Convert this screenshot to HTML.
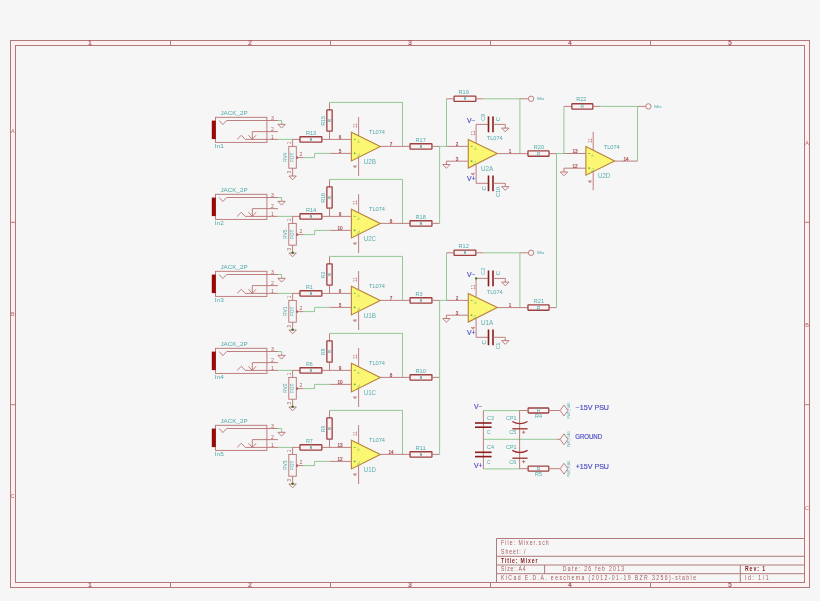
<!DOCTYPE html><html><head><meta charset="utf-8"><style>
html,body{margin:0;padding:0;background:#f6f6f6;width:820px;height:601px;overflow:hidden}
svg{display:block;will-change:transform}
text{font-family:"Liberation Sans",sans-serif;white-space:pre}
.b{stroke:#b07a7a;stroke-width:1;fill:none}
.c{stroke:#b87272;stroke-width:0.9;fill:none}
.w{stroke:#88c488;stroke-width:0.9;fill:none}
.r{stroke:#9c4040;stroke-width:1.3;fill:#fbf3f3}
.tl{fill:#4ea8a8;font-size:6px}
.tu{fill:#5aafaf;font-size:7.4px}
.tres{fill:#4ea8a8;font-size:5.3px}
.tr{fill:#3e9c9c;font-size:3.4px;stroke:#3e9c9c;stroke-width:0.15}
.pn{fill:#b05a5a;font-size:5.1px}
.bl{fill:#4a4ac4;font-size:6.5px;stroke:#4a4ac4;stroke-width:0.15}
.tb{fill:#a85858;font-size:6.4px}
.tbb{fill:#8a1a1a;font-size:6.4px;font-weight:bold}
.gp{fill:#4aa04a;font-size:5px;stroke:#4aa04a;stroke-width:0.2}
.cp{stroke:#8c1c1c;stroke-width:1.6;fill:none}
.cp2{stroke:#9a3030;stroke-width:1.3;fill:none}
.tm{fill:#4aa8a8;font-size:4.4px}
.tf{fill:#4fa9a9;font-size:3px}
.pp{fill:#a85050;font-size:4.6px;stroke:#a85050;stroke-width:0.2}
.gm{stroke:#58b058;stroke-width:0.8}
.gv{fill:#60b860;font-size:3.2px}
.tpot{fill:#4aa8a8;font-size:4.6px}
.trb{fill:#4ea8a8;font-size:5px}
.bl2{fill:#b06464;font-size:5.4px}
.pr{fill:#b05c5c;font-size:4.6px;stroke:#b05c5c;stroke-width:0.05}
.bn{fill:#a85858;font-size:6.3px;stroke:#a85858;stroke-width:0.25}
</style></head><body>
<svg width="820" height="601" viewBox="0 0 820 601">
<rect x="0" y="0" width="820" height="601" fill="#f6f6f6"/>
<path d="M10,40H809V587H10Z M15,45H804V582H15Z" fill="#fff1f1" fill-rule="evenodd"/>
<rect class="b" x="10.5" y="40.5" width="799" height="547"/>
<rect class="b" x="15.5" y="45.5" width="789" height="537"/>
<line class="b" x1="170.5" y1="40" x2="170.5" y2="45"/>
<line class="b" x1="170.5" y1="582" x2="170.5" y2="587"/>
<line class="b" x1="330.5" y1="40" x2="330.5" y2="45"/>
<line class="b" x1="330.5" y1="582" x2="330.5" y2="587"/>
<line class="b" x1="490.5" y1="40" x2="490.5" y2="45"/>
<line class="b" x1="490.5" y1="582" x2="490.5" y2="587"/>
<line class="b" x1="650.5" y1="40" x2="650.5" y2="45"/>
<line class="b" x1="650.5" y1="582" x2="650.5" y2="587"/>
<text class="bn" x="90" y="45.2" text-anchor="middle">1</text>
<text class="bn" x="90" y="587.2" text-anchor="middle">1</text>
<text class="bn" x="250" y="45.2" text-anchor="middle">2</text>
<text class="bn" x="250" y="587.2" text-anchor="middle">2</text>
<text class="bn" x="410" y="45.2" text-anchor="middle">3</text>
<text class="bn" x="410" y="587.2" text-anchor="middle">3</text>
<text class="bn" x="570" y="45.2" text-anchor="middle">4</text>
<text class="bn" x="570" y="587.2" text-anchor="middle">4</text>
<text class="bn" x="730" y="45.2" text-anchor="middle">5</text>
<text class="bn" x="730" y="587.2" text-anchor="middle">5</text>
<line class="b" x1="10" y1="222.3" x2="15" y2="222.3"/>
<line class="b" x1="804" y1="222.3" x2="809" y2="222.3"/>
<line class="b" x1="10" y1="404.7" x2="15" y2="404.7"/>
<line class="b" x1="804" y1="404.7" x2="809" y2="404.7"/>
<text class="bl2" x="12.8" y="133" text-anchor="middle">A</text>
<text class="bl2" x="12.8" y="315.5" text-anchor="middle">B</text>
<text class="bl2" x="12.8" y="498" text-anchor="middle">C</text>
<text class="bl2" x="807" y="144.7" text-anchor="middle">A</text>
<text class="bl2" x="807" y="327" text-anchor="middle">B</text>
<text class="bl2" x="807" y="510" text-anchor="middle">C</text>
<path class="b" d="M496.5,582V538.5H804 M496.5,556.3H804 M496.5,565H804 M496.5,573.7H804 M544.6,565V573.7 M740.3,565V582"/>
<text class="tb" x="626.25" y="544.8" transform="scale(0.8 1)" textLength="59.62" lengthAdjust="spacing">File: Mixer.sch</text>
<text class="tb" x="626.25" y="553.6" transform="scale(0.8 1)" textLength="30.62" lengthAdjust="spacing">Sheet: /</text>
<text class="tbb" x="626.25" y="562.6" transform="scale(0.8 1)" textLength="45.5" lengthAdjust="spacing">Title: Mixer</text>
<text class="tb" x="626.25" y="571.5" transform="scale(0.8 1)" textLength="30.62" lengthAdjust="spacing">Size: A4</text>
<text class="tb" x="703.5" y="571.5" transform="scale(0.8 1)" textLength="76.75" lengthAdjust="spacing">Date: 26 feb 2013</text>
<text class="tb" x="626.25" y="580.2" transform="scale(0.8 1)" textLength="243.75" lengthAdjust="spacing">KiCad E.D.A. eeschema (2012-01-19 BZR 3256)-stable</text>
<text class="tbb" x="931.25" y="571.5" transform="scale(0.8 1)" textLength="25" lengthAdjust="spacing">Rev: 1</text>
<text class="tb" x="931.25" y="580.2" transform="scale(0.8 1)" textLength="29.38" lengthAdjust="spacing">Id: 1/1</text>
<g transform="translate(0 0)">
<rect class="c" x="215.5" y="117.3" width="51.4" height="25.1"/>
<rect x="211.8" y="120.6" width="4" height="18.5" fill="#980808"/>
<polyline class="c" points="219.3,120.6 222.8,124.6 226.7,120.5 278,120.5"/>
<polyline class="w" points="278,120.5 281.6,120.5 281.6,124.3"/>
<polygon class="c" points="277.9,124.3 285.3,124.3 281.6,128.1"/>
<polyline class="c" points="278,131.6 252.3,131.6 252.3,139.4"/>
<polyline class="c" points="248.4,135.2 252.3,139.4 256.1,135.2"/>
<polyline class="c" points="237.1,139.4 241.3,135.3 245.2,139.4 278,139.4"/>
<text class="tl" x="220.4" y="115" textLength="27.2" lengthAdjust="spacingAndGlyphs">JACK_2P</text>
<text class="tl" x="214.8" y="148.4" textLength="9" lengthAdjust="spacingAndGlyphs">In1</text>
<text class="pn" x="272.5" y="119.5" text-anchor="middle">3</text>
<text class="pn" x="272.5" y="130.8" text-anchor="middle">2</text>
<text class="pn" x="272.5" y="138.5" text-anchor="middle">1</text>
<line class="w" x1="278" y1="139.4" x2="292.6" y2="139.4"/>
<line class="c" x1="292.6" y1="139.4" x2="300" y2="139.4"/>
<line class="c" x1="292.6" y1="139.4" x2="292.6" y2="146.4"/>
<rect class="c" x="288.8" y="146.4" width="7.5" height="21.8"/>
<line class="c" x1="292.6" y1="168.2" x2="292.6" y2="176"/>
<polygon class="c" points="288.9,176 296.3,176 292.6,179.8"/>
<circle cx="297.2" cy="157.6" r="1.1" fill="#9a2020"/>
<line class="c" x1="296.3" y1="157.6" x2="303.6" y2="157.6"/>
<polyline class="w" points="303.6,157.6 314.6,157.6 314.6,153.4 329.5,153.4"/>
<text class="pn" x="300.8" y="156.4" text-anchor="middle">2</text>
<text class="pr" x="290.6" y="143" text-anchor="middle" transform="rotate(-90 290.6 143)">1</text>
<text class="pr" x="290.6" y="172.2" text-anchor="middle" transform="rotate(-90 290.6 172.2)">3</text>
<text class="tpot" x="294.2" y="157.5" textLength="9.6" lengthAdjust="spacingAndGlyphs" text-anchor="middle" transform="rotate(-90 294.2 157.5)">POT</text>
<text class="tl" x="287" y="157.3" textLength="9.5" lengthAdjust="spacingAndGlyphs" text-anchor="middle" transform="rotate(-90 287 157.3)">RV4</text>
<rect class="r" x="299.95" y="136.75" width="21.9" height="5.3" rx="0.4"/>
<text class="tr" x="310.9" y="140.7" text-anchor="middle">R</text>
<text class="tres" x="306" y="134.9" textLength="10.2" lengthAdjust="spacingAndGlyphs">R13</text>
<line class="c" x1="322" y1="139.4" x2="351.4" y2="139.4"/>
<line class="c" x1="329.5" y1="102.5" x2="329.5" y2="110.1"/>
<rect class="r" x="326.85" y="109.95" width="5.3" height="21.2" rx="0.4"/>
<text class="tr" x="330.8" y="120.55" text-anchor="middle" transform="rotate(-90 330.8 120.55)">R</text>
<text class="tres" x="325" y="120.9" textLength="9.9" lengthAdjust="spacingAndGlyphs" text-anchor="middle" transform="rotate(-90 325 120.9)">R15</text>
<line class="c" x1="329.5" y1="131.8" x2="329.5" y2="139.4"/>
<polyline class="w" points="329.5,102.4 402.5,102.4 402.5,146.4"/>
<line class="c" x1="358.6" y1="117.1" x2="358.6" y2="136"/>
<line class="c" x1="358.6" y1="157" x2="358.6" y2="176"/>
<line class="c" x1="329.5" y1="153.4" x2="351.4" y2="153.4"/>
<polygon points="351.4,132.2 380.3,146.5 351.4,160.9" fill="#fcf772" stroke="#b8803a" stroke-width="1.1"/>
<line class="c" x1="380.3" y1="146.4" x2="410" y2="146.4"/>
<line class="gm" x1="353.7" y1="139.4" x2="355.7" y2="139.4"/>
<line class="gm" x1="353.7" y1="153.4" x2="355.7" y2="153.4"/>
<line class="gm" x1="354.7" y1="152.4" x2="354.7" y2="154.4"/>
<text class="gv" x="359.6" y="141" text-anchor="middle" transform="rotate(-90 359.6 141)">V−</text>
<text class="gv" x="359.6" y="155" text-anchor="middle" transform="rotate(-90 359.6 155)">V+</text>
<text class="tl" x="369" y="133.5" textLength="16" lengthAdjust="spacingAndGlyphs">TL074</text>
<text class="tu" x="363.7" y="163.7" textLength="12.3" lengthAdjust="spacingAndGlyphs">U2B</text>
<text class="pp" x="340" y="138.8" text-anchor="middle">6</text>
<text class="pp" x="340" y="152.8" text-anchor="middle">5</text>
<text class="pp" x="391" y="145.8" text-anchor="middle">7</text>
<text class="pr" x="357.3" y="125.5" text-anchor="middle" transform="rotate(-90 357.3 125.5)">11</text>
<text class="pr" x="357.3" y="166.5" text-anchor="middle" transform="rotate(-90 357.3 166.5)">4</text>
<rect class="r" x="410.05" y="143.75" width="21.9" height="5.3" rx="0.4"/>
<text class="tr" x="421" y="147.7" text-anchor="middle">R</text>
<text class="tres" x="415.6" y="142" textLength="10.2" lengthAdjust="spacingAndGlyphs">R17</text>
<line class="c" x1="432.6" y1="146.4" x2="439.6" y2="146.4"/>
</g>
<g transform="translate(0 77)">
<rect class="c" x="215.5" y="117.3" width="51.4" height="25.1"/>
<rect x="211.8" y="120.6" width="4" height="18.5" fill="#980808"/>
<polyline class="c" points="219.3,120.6 222.8,124.6 226.7,120.5 278,120.5"/>
<polyline class="w" points="278,120.5 281.6,120.5 281.6,124.3"/>
<polygon class="c" points="277.9,124.3 285.3,124.3 281.6,128.1"/>
<polyline class="c" points="278,131.6 252.3,131.6 252.3,139.4"/>
<polyline class="c" points="248.4,135.2 252.3,139.4 256.1,135.2"/>
<polyline class="c" points="237.1,139.4 241.3,135.3 245.2,139.4 278,139.4"/>
<text class="tl" x="220.4" y="115" textLength="27.2" lengthAdjust="spacingAndGlyphs">JACK_2P</text>
<text class="tl" x="214.8" y="148.4" textLength="9" lengthAdjust="spacingAndGlyphs">In2</text>
<text class="pn" x="272.5" y="119.5" text-anchor="middle">3</text>
<text class="pn" x="272.5" y="130.8" text-anchor="middle">2</text>
<text class="pn" x="272.5" y="138.5" text-anchor="middle">1</text>
<line class="w" x1="278" y1="139.4" x2="292.6" y2="139.4"/>
<line class="c" x1="292.6" y1="139.4" x2="300" y2="139.4"/>
<line class="c" x1="292.6" y1="139.4" x2="292.6" y2="146.4"/>
<rect class="c" x="288.8" y="146.4" width="7.5" height="21.8"/>
<line class="c" x1="292.6" y1="168.2" x2="292.6" y2="176"/>
<polygon class="c" points="288.9,176 296.3,176 292.6,179.8"/>
<circle cx="292.6" cy="175.8" r="1.25" fill="#3d7a30"/>
<circle cx="297.2" cy="157.6" r="1.1" fill="#9a2020"/>
<line class="c" x1="296.3" y1="157.6" x2="303.6" y2="157.6"/>
<polyline class="w" points="303.6,157.6 314.6,157.6 314.6,153.4 329.5,153.4"/>
<text class="pn" x="300.8" y="156.4" text-anchor="middle">2</text>
<text class="pr" x="290.6" y="143" text-anchor="middle" transform="rotate(-90 290.6 143)">1</text>
<text class="pr" x="290.6" y="172.2" text-anchor="middle" transform="rotate(-90 290.6 172.2)">3</text>
<text class="tpot" x="294.2" y="157.5" textLength="9.6" lengthAdjust="spacingAndGlyphs" text-anchor="middle" transform="rotate(-90 294.2 157.5)">POT</text>
<text class="tl" x="287" y="157.3" textLength="9.5" lengthAdjust="spacingAndGlyphs" text-anchor="middle" transform="rotate(-90 287 157.3)">RV5</text>
<rect class="r" x="299.95" y="136.75" width="21.9" height="5.3" rx="0.4"/>
<text class="tr" x="310.9" y="140.7" text-anchor="middle">R</text>
<text class="tres" x="306" y="134.9" textLength="10.2" lengthAdjust="spacingAndGlyphs">R14</text>
<line class="c" x1="322" y1="139.4" x2="351.4" y2="139.4"/>
<line class="c" x1="329.5" y1="102.5" x2="329.5" y2="110.1"/>
<rect class="r" x="326.85" y="109.95" width="5.3" height="21.2" rx="0.4"/>
<text class="tr" x="330.8" y="120.55" text-anchor="middle" transform="rotate(-90 330.8 120.55)">R</text>
<text class="tres" x="325" y="120.9" textLength="9.9" lengthAdjust="spacingAndGlyphs" text-anchor="middle" transform="rotate(-90 325 120.9)">R16</text>
<line class="c" x1="329.5" y1="131.8" x2="329.5" y2="139.4"/>
<polyline class="w" points="329.5,102.4 402.5,102.4 402.5,146.4"/>
<line class="c" x1="358.6" y1="117.1" x2="358.6" y2="136"/>
<line class="c" x1="358.6" y1="157" x2="358.6" y2="176"/>
<line class="c" x1="329.5" y1="153.4" x2="351.4" y2="153.4"/>
<polygon points="351.4,132.2 380.3,146.5 351.4,160.9" fill="#fcf772" stroke="#b8803a" stroke-width="1.1"/>
<line class="c" x1="380.3" y1="146.4" x2="410" y2="146.4"/>
<line class="gm" x1="353.7" y1="139.4" x2="355.7" y2="139.4"/>
<line class="gm" x1="353.7" y1="153.4" x2="355.7" y2="153.4"/>
<line class="gm" x1="354.7" y1="152.4" x2="354.7" y2="154.4"/>
<text class="gv" x="359.6" y="141" text-anchor="middle" transform="rotate(-90 359.6 141)">V−</text>
<text class="gv" x="359.6" y="155" text-anchor="middle" transform="rotate(-90 359.6 155)">V+</text>
<text class="tl" x="369" y="133.5" textLength="16" lengthAdjust="spacingAndGlyphs">TL074</text>
<text class="tu" x="363.7" y="163.7" textLength="12.3" lengthAdjust="spacingAndGlyphs">U2C</text>
<text class="pp" x="340" y="138.8" text-anchor="middle">9</text>
<text class="pp" x="340" y="152.8" text-anchor="middle">10</text>
<text class="pp" x="391" y="145.8" text-anchor="middle">8</text>
<text class="pr" x="357.3" y="125.5" text-anchor="middle" transform="rotate(-90 357.3 125.5)">11</text>
<text class="pr" x="357.3" y="166.5" text-anchor="middle" transform="rotate(-90 357.3 166.5)">4</text>
<rect class="r" x="410.05" y="143.75" width="21.9" height="5.3" rx="0.4"/>
<text class="tr" x="421" y="147.7" text-anchor="middle">R</text>
<text class="tres" x="415.6" y="142" textLength="10.2" lengthAdjust="spacingAndGlyphs">R18</text>
<line class="c" x1="432.6" y1="146.4" x2="439.6" y2="146.4"/>
</g>
<g transform="translate(0 154)">
<rect class="c" x="215.5" y="117.3" width="51.4" height="25.1"/>
<rect x="211.8" y="120.6" width="4" height="18.5" fill="#980808"/>
<polyline class="c" points="219.3,120.6 222.8,124.6 226.7,120.5 278,120.5"/>
<polyline class="w" points="278,120.5 281.6,120.5 281.6,124.3"/>
<polygon class="c" points="277.9,124.3 285.3,124.3 281.6,128.1"/>
<polyline class="c" points="278,131.6 252.3,131.6 252.3,139.4"/>
<polyline class="c" points="248.4,135.2 252.3,139.4 256.1,135.2"/>
<polyline class="c" points="237.1,139.4 241.3,135.3 245.2,139.4 278,139.4"/>
<text class="tl" x="220.4" y="115" textLength="27.2" lengthAdjust="spacingAndGlyphs">JACK_2P</text>
<text class="tl" x="214.8" y="148.4" textLength="9" lengthAdjust="spacingAndGlyphs">In3</text>
<text class="pn" x="272.5" y="119.5" text-anchor="middle">3</text>
<text class="pn" x="272.5" y="130.8" text-anchor="middle">2</text>
<text class="pn" x="272.5" y="138.5" text-anchor="middle">1</text>
<line class="w" x1="278" y1="139.4" x2="292.6" y2="139.4"/>
<line class="c" x1="292.6" y1="139.4" x2="300" y2="139.4"/>
<line class="c" x1="292.6" y1="139.4" x2="292.6" y2="146.4"/>
<rect class="c" x="288.8" y="146.4" width="7.5" height="21.8"/>
<line class="c" x1="292.6" y1="168.2" x2="292.6" y2="176"/>
<polygon class="c" points="288.9,176 296.3,176 292.6,179.8"/>
<circle cx="292.6" cy="175.8" r="1.25" fill="#3d7a30"/>
<circle cx="297.2" cy="157.6" r="1.1" fill="#9a2020"/>
<line class="c" x1="296.3" y1="157.6" x2="303.6" y2="157.6"/>
<polyline class="w" points="303.6,157.6 314.6,157.6 314.6,153.4 329.5,153.4"/>
<text class="pn" x="300.8" y="156.4" text-anchor="middle">2</text>
<text class="pr" x="290.6" y="143" text-anchor="middle" transform="rotate(-90 290.6 143)">1</text>
<text class="pr" x="290.6" y="172.2" text-anchor="middle" transform="rotate(-90 290.6 172.2)">3</text>
<text class="tpot" x="294.2" y="157.5" textLength="9.6" lengthAdjust="spacingAndGlyphs" text-anchor="middle" transform="rotate(-90 294.2 157.5)">POT</text>
<text class="tl" x="287" y="157.3" textLength="9.5" lengthAdjust="spacingAndGlyphs" text-anchor="middle" transform="rotate(-90 287 157.3)">RV1</text>
<rect class="r" x="299.95" y="136.75" width="21.9" height="5.3" rx="0.4"/>
<text class="tr" x="310.9" y="140.7" text-anchor="middle">R</text>
<text class="tres" x="306" y="134.9" textLength="6.8" lengthAdjust="spacingAndGlyphs">R1</text>
<line class="c" x1="322" y1="139.4" x2="351.4" y2="139.4"/>
<line class="c" x1="329.5" y1="102.5" x2="329.5" y2="110.1"/>
<rect class="r" x="326.85" y="109.95" width="5.3" height="21.2" rx="0.4"/>
<text class="tr" x="330.8" y="120.55" text-anchor="middle" transform="rotate(-90 330.8 120.55)">R</text>
<text class="tres" x="325" y="120.9" textLength="6.6" lengthAdjust="spacingAndGlyphs" text-anchor="middle" transform="rotate(-90 325 120.9)">R2</text>
<line class="c" x1="329.5" y1="131.8" x2="329.5" y2="139.4"/>
<polyline class="w" points="329.5,102.4 402.5,102.4 402.5,146.4"/>
<line class="c" x1="358.6" y1="117.1" x2="358.6" y2="136"/>
<line class="c" x1="358.6" y1="157" x2="358.6" y2="176"/>
<line class="c" x1="329.5" y1="153.4" x2="351.4" y2="153.4"/>
<polygon points="351.4,132.2 380.3,146.5 351.4,160.9" fill="#fcf772" stroke="#b8803a" stroke-width="1.1"/>
<line class="c" x1="380.3" y1="146.4" x2="410" y2="146.4"/>
<line class="gm" x1="353.7" y1="139.4" x2="355.7" y2="139.4"/>
<line class="gm" x1="353.7" y1="153.4" x2="355.7" y2="153.4"/>
<line class="gm" x1="354.7" y1="152.4" x2="354.7" y2="154.4"/>
<text class="gv" x="359.6" y="141" text-anchor="middle" transform="rotate(-90 359.6 141)">V−</text>
<text class="gv" x="359.6" y="155" text-anchor="middle" transform="rotate(-90 359.6 155)">V+</text>
<text class="tl" x="369" y="133.5" textLength="16" lengthAdjust="spacingAndGlyphs">TL074</text>
<text class="tu" x="363.7" y="163.7" textLength="12.3" lengthAdjust="spacingAndGlyphs">U1B</text>
<text class="pp" x="340" y="138.8" text-anchor="middle">6</text>
<text class="pp" x="340" y="152.8" text-anchor="middle">5</text>
<text class="pp" x="391" y="145.8" text-anchor="middle">7</text>
<text class="pr" x="357.3" y="125.5" text-anchor="middle" transform="rotate(-90 357.3 125.5)">11</text>
<text class="pr" x="357.3" y="166.5" text-anchor="middle" transform="rotate(-90 357.3 166.5)">4</text>
<rect class="r" x="410.05" y="143.75" width="21.9" height="5.3" rx="0.4"/>
<text class="tr" x="421" y="147.7" text-anchor="middle">R</text>
<text class="tres" x="415.6" y="142" textLength="6.8" lengthAdjust="spacingAndGlyphs">R3</text>
<line class="c" x1="432.6" y1="146.4" x2="439.6" y2="146.4"/>
</g>
<g transform="translate(0 231)">
<rect class="c" x="215.5" y="117.3" width="51.4" height="25.1"/>
<rect x="211.8" y="120.6" width="4" height="18.5" fill="#980808"/>
<polyline class="c" points="219.3,120.6 222.8,124.6 226.7,120.5 278,120.5"/>
<polyline class="w" points="278,120.5 281.6,120.5 281.6,124.3"/>
<polygon class="c" points="277.9,124.3 285.3,124.3 281.6,128.1"/>
<polyline class="c" points="278,131.6 252.3,131.6 252.3,139.4"/>
<polyline class="c" points="248.4,135.2 252.3,139.4 256.1,135.2"/>
<polyline class="c" points="237.1,139.4 241.3,135.3 245.2,139.4 278,139.4"/>
<text class="tl" x="220.4" y="115" textLength="27.2" lengthAdjust="spacingAndGlyphs">JACK_2P</text>
<text class="tl" x="214.8" y="148.4" textLength="9" lengthAdjust="spacingAndGlyphs">In4</text>
<text class="pn" x="272.5" y="119.5" text-anchor="middle">3</text>
<text class="pn" x="272.5" y="130.8" text-anchor="middle">2</text>
<text class="pn" x="272.5" y="138.5" text-anchor="middle">1</text>
<line class="w" x1="278" y1="139.4" x2="292.6" y2="139.4"/>
<line class="c" x1="292.6" y1="139.4" x2="300" y2="139.4"/>
<line class="c" x1="292.6" y1="139.4" x2="292.6" y2="146.4"/>
<rect class="c" x="288.8" y="146.4" width="7.5" height="21.8"/>
<line class="c" x1="292.6" y1="168.2" x2="292.6" y2="176"/>
<polygon class="c" points="288.9,176 296.3,176 292.6,179.8"/>
<circle cx="292.6" cy="175.8" r="1.25" fill="#3d7a30"/>
<circle cx="297.2" cy="157.6" r="1.1" fill="#9a2020"/>
<line class="c" x1="296.3" y1="157.6" x2="303.6" y2="157.6"/>
<polyline class="w" points="303.6,157.6 314.6,157.6 314.6,153.4 329.5,153.4"/>
<text class="pn" x="300.8" y="156.4" text-anchor="middle">2</text>
<text class="pr" x="290.6" y="143" text-anchor="middle" transform="rotate(-90 290.6 143)">1</text>
<text class="pr" x="290.6" y="172.2" text-anchor="middle" transform="rotate(-90 290.6 172.2)">3</text>
<text class="tpot" x="294.2" y="157.5" textLength="9.6" lengthAdjust="spacingAndGlyphs" text-anchor="middle" transform="rotate(-90 294.2 157.5)">POT</text>
<text class="tl" x="287" y="157.3" textLength="9.5" lengthAdjust="spacingAndGlyphs" text-anchor="middle" transform="rotate(-90 287 157.3)">RV2</text>
<rect class="r" x="299.95" y="136.75" width="21.9" height="5.3" rx="0.4"/>
<text class="tr" x="310.9" y="140.7" text-anchor="middle">R</text>
<text class="tres" x="306" y="134.9" textLength="6.8" lengthAdjust="spacingAndGlyphs">R6</text>
<line class="c" x1="322" y1="139.4" x2="351.4" y2="139.4"/>
<line class="c" x1="329.5" y1="102.5" x2="329.5" y2="110.1"/>
<rect class="r" x="326.85" y="109.95" width="5.3" height="21.2" rx="0.4"/>
<text class="tr" x="330.8" y="120.55" text-anchor="middle" transform="rotate(-90 330.8 120.55)">R</text>
<text class="tres" x="325" y="120.9" textLength="6.6" lengthAdjust="spacingAndGlyphs" text-anchor="middle" transform="rotate(-90 325 120.9)">R8</text>
<line class="c" x1="329.5" y1="131.8" x2="329.5" y2="139.4"/>
<polyline class="w" points="329.5,102.4 402.5,102.4 402.5,146.4"/>
<line class="c" x1="358.6" y1="117.1" x2="358.6" y2="136"/>
<line class="c" x1="358.6" y1="157" x2="358.6" y2="176"/>
<line class="c" x1="329.5" y1="153.4" x2="351.4" y2="153.4"/>
<polygon points="351.4,132.2 380.3,146.5 351.4,160.9" fill="#fcf772" stroke="#b8803a" stroke-width="1.1"/>
<line class="c" x1="380.3" y1="146.4" x2="410" y2="146.4"/>
<line class="gm" x1="353.7" y1="139.4" x2="355.7" y2="139.4"/>
<line class="gm" x1="353.7" y1="153.4" x2="355.7" y2="153.4"/>
<line class="gm" x1="354.7" y1="152.4" x2="354.7" y2="154.4"/>
<text class="gv" x="359.6" y="141" text-anchor="middle" transform="rotate(-90 359.6 141)">V−</text>
<text class="gv" x="359.6" y="155" text-anchor="middle" transform="rotate(-90 359.6 155)">V+</text>
<text class="tl" x="369" y="133.5" textLength="16" lengthAdjust="spacingAndGlyphs">TL074</text>
<text class="tu" x="363.7" y="163.7" textLength="12.3" lengthAdjust="spacingAndGlyphs">U1C</text>
<text class="pp" x="340" y="138.8" text-anchor="middle">9</text>
<text class="pp" x="340" y="152.8" text-anchor="middle">10</text>
<text class="pp" x="391" y="145.8" text-anchor="middle">8</text>
<text class="pr" x="357.3" y="125.5" text-anchor="middle" transform="rotate(-90 357.3 125.5)">11</text>
<text class="pr" x="357.3" y="166.5" text-anchor="middle" transform="rotate(-90 357.3 166.5)">4</text>
<rect class="r" x="410.05" y="143.75" width="21.9" height="5.3" rx="0.4"/>
<text class="tr" x="421" y="147.7" text-anchor="middle">R</text>
<text class="tres" x="415.6" y="142" textLength="10.2" lengthAdjust="spacingAndGlyphs">R10</text>
<line class="c" x1="432.6" y1="146.4" x2="439.6" y2="146.4"/>
</g>
<g transform="translate(0 308)">
<rect class="c" x="215.5" y="117.3" width="51.4" height="25.1"/>
<rect x="211.8" y="120.6" width="4" height="18.5" fill="#980808"/>
<polyline class="c" points="219.3,120.6 222.8,124.6 226.7,120.5 278,120.5"/>
<polyline class="w" points="278,120.5 281.6,120.5 281.6,124.3"/>
<polygon class="c" points="277.9,124.3 285.3,124.3 281.6,128.1"/>
<polyline class="c" points="278,131.6 252.3,131.6 252.3,139.4"/>
<polyline class="c" points="248.4,135.2 252.3,139.4 256.1,135.2"/>
<polyline class="c" points="237.1,139.4 241.3,135.3 245.2,139.4 278,139.4"/>
<text class="tl" x="220.4" y="115" textLength="27.2" lengthAdjust="spacingAndGlyphs">JACK_2P</text>
<text class="tl" x="214.8" y="148.4" textLength="9" lengthAdjust="spacingAndGlyphs">In5</text>
<text class="pn" x="272.5" y="119.5" text-anchor="middle">3</text>
<text class="pn" x="272.5" y="130.8" text-anchor="middle">2</text>
<text class="pn" x="272.5" y="138.5" text-anchor="middle">1</text>
<line class="w" x1="278" y1="139.4" x2="292.6" y2="139.4"/>
<line class="c" x1="292.6" y1="139.4" x2="300" y2="139.4"/>
<line class="c" x1="292.6" y1="139.4" x2="292.6" y2="146.4"/>
<rect class="c" x="288.8" y="146.4" width="7.5" height="21.8"/>
<line class="c" x1="292.6" y1="168.2" x2="292.6" y2="176"/>
<polygon class="c" points="288.9,176 296.3,176 292.6,179.8"/>
<circle cx="292.6" cy="175.8" r="1.25" fill="#3d7a30"/>
<circle cx="297.2" cy="157.6" r="1.1" fill="#9a2020"/>
<line class="c" x1="296.3" y1="157.6" x2="303.6" y2="157.6"/>
<polyline class="w" points="303.6,157.6 314.6,157.6 314.6,153.4 329.5,153.4"/>
<text class="pn" x="300.8" y="156.4" text-anchor="middle">2</text>
<text class="pr" x="290.6" y="143" text-anchor="middle" transform="rotate(-90 290.6 143)">1</text>
<text class="pr" x="290.6" y="172.2" text-anchor="middle" transform="rotate(-90 290.6 172.2)">3</text>
<text class="tpot" x="294.2" y="157.5" textLength="9.6" lengthAdjust="spacingAndGlyphs" text-anchor="middle" transform="rotate(-90 294.2 157.5)">POT</text>
<text class="tl" x="287" y="157.3" textLength="9.5" lengthAdjust="spacingAndGlyphs" text-anchor="middle" transform="rotate(-90 287 157.3)">RV3</text>
<rect class="r" x="299.95" y="136.75" width="21.9" height="5.3" rx="0.4"/>
<text class="tr" x="310.9" y="140.7" text-anchor="middle">R</text>
<text class="tres" x="306" y="134.9" textLength="6.8" lengthAdjust="spacingAndGlyphs">R7</text>
<line class="c" x1="322" y1="139.4" x2="351.4" y2="139.4"/>
<line class="c" x1="329.5" y1="102.5" x2="329.5" y2="110.1"/>
<rect class="r" x="326.85" y="109.95" width="5.3" height="21.2" rx="0.4"/>
<text class="tr" x="330.8" y="120.55" text-anchor="middle" transform="rotate(-90 330.8 120.55)">R</text>
<text class="tres" x="325" y="120.9" textLength="6.6" lengthAdjust="spacingAndGlyphs" text-anchor="middle" transform="rotate(-90 325 120.9)">R9</text>
<line class="c" x1="329.5" y1="131.8" x2="329.5" y2="139.4"/>
<polyline class="w" points="329.5,102.4 402.5,102.4 402.5,146.4"/>
<line class="c" x1="358.6" y1="117.1" x2="358.6" y2="136"/>
<line class="c" x1="358.6" y1="157" x2="358.6" y2="176"/>
<line class="c" x1="329.5" y1="153.4" x2="351.4" y2="153.4"/>
<polygon points="351.4,132.2 380.3,146.5 351.4,160.9" fill="#fcf772" stroke="#b8803a" stroke-width="1.1"/>
<line class="c" x1="380.3" y1="146.4" x2="410" y2="146.4"/>
<line class="gm" x1="353.7" y1="139.4" x2="355.7" y2="139.4"/>
<line class="gm" x1="353.7" y1="153.4" x2="355.7" y2="153.4"/>
<line class="gm" x1="354.7" y1="152.4" x2="354.7" y2="154.4"/>
<text class="gv" x="359.6" y="141" text-anchor="middle" transform="rotate(-90 359.6 141)">V−</text>
<text class="gv" x="359.6" y="155" text-anchor="middle" transform="rotate(-90 359.6 155)">V+</text>
<text class="tl" x="369" y="133.5" textLength="16" lengthAdjust="spacingAndGlyphs">TL074</text>
<text class="tu" x="363.7" y="163.7" textLength="12.3" lengthAdjust="spacingAndGlyphs">U1D</text>
<text class="pp" x="340" y="138.8" text-anchor="middle">13</text>
<text class="pp" x="340" y="152.8" text-anchor="middle">12</text>
<text class="pp" x="391" y="145.8" text-anchor="middle">14</text>
<text class="pr" x="357.3" y="125.5" text-anchor="middle" transform="rotate(-90 357.3 125.5)">11</text>
<text class="pr" x="357.3" y="166.5" text-anchor="middle" transform="rotate(-90 357.3 166.5)">4</text>
<rect class="r" x="410.05" y="143.75" width="21.9" height="5.3" rx="0.4"/>
<text class="tr" x="421" y="147.7" text-anchor="middle">R</text>
<text class="tres" x="415.6" y="142" textLength="10.2" lengthAdjust="spacingAndGlyphs">R11</text>
<line class="c" x1="432.6" y1="146.4" x2="439.6" y2="146.4"/>
</g>
<line class="w" x1="439.6" y1="146.4" x2="439.6" y2="223.4"/>
<line class="w" x1="439.6" y1="300.4" x2="439.6" y2="454.4"/>
<g transform="translate(0 0)">
<line class="w" x1="439.6" y1="146.4" x2="446.5" y2="146.4"/>
<line class="c" x1="446.5" y1="146.4" x2="468.3" y2="146.4"/>
<polyline class="w" points="446.5,146.4 446.5,98.8"/>
<line class="c" x1="446.5" y1="98.8" x2="453.5" y2="98.8"/>
<rect class="r" x="454.05" y="96.15" width="21.8" height="5.3" rx="0.4"/>
<text class="tr" x="464.95" y="100.1" text-anchor="middle">R</text>
<text class="tres" x="458.6" y="93.6" textLength="10.2" lengthAdjust="spacingAndGlyphs">R19</text>
<line class="c" x1="476.5" y1="98.8" x2="483.6" y2="98.8"/>
<line class="w" x1="483.6" y1="98.8" x2="519.9" y2="98.8"/>
<line class="c" x1="519.9" y1="98.8" x2="528.3" y2="98.8"/>
<circle class="c" cx="531.1" cy="98.8" r="2.7"/>
<text class="tm" x="536.9" y="100.4" textLength="7.4" lengthAdjust="spacingAndGlyphs">Mix</text>
<line class="w" x1="519.9" y1="98.8" x2="519.9" y2="153.6"/>
<polyline class="c" points="468.3,161.2 446.4,161.2 446.4,164.5"/>
<polygon class="c" points="442.7,164.5 450.1,164.5 446.4,168.3"/>
<polyline class="c" points="476.1,142.8 476.1,124.4 488.5,124.4"/>
<line class="cp" x1="488.5" y1="116.4" x2="488.5" y2="132.3"/>
<line class="cp" x1="493" y1="116.4" x2="493" y2="132.3"/>
<polyline class="c" points="493,124.4 505.3,124.4 505.3,128.1"/>
<polygon class="c" points="501.6,128.1 509,128.1 505.3,131.9"/>
<polyline class="c" points="476.1,164.5 476.1,183.3 488.5,183.3"/>
<line class="cp" x1="488.5" y1="175.5" x2="488.5" y2="191.2"/>
<line class="cp" x1="493" y1="175.5" x2="493" y2="191.2"/>
<polyline class="c" points="493,183.3 505.3,183.3 505.3,186.6"/>
<polygon class="c" points="501.6,186.6 509,186.6 505.3,190.4"/>
<polygon points="468.3,139.4 497.3,153.6 468.3,168" fill="#fcf772" stroke="#b8803a" stroke-width="1.1"/>
<line class="gm" x1="470.6" y1="146.4" x2="472.6" y2="146.4"/>
<line class="gm" x1="470.6" y1="161.2" x2="472.6" y2="161.2"/>
<line class="gm" x1="471.6" y1="160.2" x2="471.6" y2="162.2"/>
<text class="gv" x="476.5" y="148" text-anchor="middle" transform="rotate(-90 476.5 148)">V−</text>
<text class="gv" x="476.5" y="162.8" text-anchor="middle" transform="rotate(-90 476.5 162.8)">V+</text>
<line class="c" x1="497.3" y1="153.6" x2="528" y2="153.6"/>
<rect class="r" x="527.95" y="150.95" width="21.1" height="5.3" rx="0.4"/>
<text class="trb" x="538.5" y="155.5" text-anchor="middle">R</text>
<text class="tres" x="533.8" y="149" textLength="10.2" lengthAdjust="spacingAndGlyphs">R20</text>
<line class="c" x1="549.7" y1="153.6" x2="556.5" y2="153.6"/>
<text class="bl" x="466.9" y="123.4" textLength="8.5" lengthAdjust="spacingAndGlyphs">V−</text>
<text class="bl" x="466.9" y="181.4" textLength="8.5" lengthAdjust="spacingAndGlyphs">V+</text>
<text class="tl" x="486.7" y="140.4" textLength="16" lengthAdjust="spacingAndGlyphs">TL074</text>
<text class="tu" x="481" y="171.1" textLength="12.3" lengthAdjust="spacingAndGlyphs">U2A</text>
<text class="pp" x="457" y="145.9" text-anchor="middle">2</text>
<text class="pp" x="457" y="160.7" text-anchor="middle">3</text>
<text class="pp" x="510" y="153" text-anchor="middle">1</text>
<text class="pr" x="474.8" y="133" text-anchor="middle" transform="rotate(-90 474.8 133)">11</text>
<text class="pr" x="474.8" y="174" text-anchor="middle" transform="rotate(-90 474.8 174)">4</text>
<text class="tl" x="485.2" y="117.3" textLength="6.8" lengthAdjust="spacingAndGlyphs" text-anchor="middle" transform="rotate(-90 485.2 117.3)">C9</text>
<text class="tl" x="500.2" y="119" text-anchor="middle" transform="rotate(-90 500.2 119)">C</text>
<text class="tl" x="485.8" y="188.3" text-anchor="middle" transform="rotate(-90 485.8 188.3)">C</text>
<text class="tl" x="500.2" y="191.9" textLength="10.2" lengthAdjust="spacingAndGlyphs" text-anchor="middle" transform="rotate(-90 500.2 191.9)">C10</text>
</g>
<g transform="translate(0 154)">
<line class="w" x1="439.6" y1="146.4" x2="446.5" y2="146.4"/>
<line class="c" x1="446.5" y1="146.4" x2="468.3" y2="146.4"/>
<polyline class="w" points="446.5,146.4 446.5,98.8"/>
<line class="c" x1="446.5" y1="98.8" x2="453.5" y2="98.8"/>
<rect class="r" x="454.05" y="96.15" width="21.8" height="5.3" rx="0.4"/>
<text class="tr" x="464.95" y="100.1" text-anchor="middle">R</text>
<text class="tres" x="458.6" y="93.6" textLength="10.2" lengthAdjust="spacingAndGlyphs">R12</text>
<line class="c" x1="476.5" y1="98.8" x2="483.6" y2="98.8"/>
<line class="w" x1="483.6" y1="98.8" x2="519.9" y2="98.8"/>
<line class="c" x1="519.9" y1="98.8" x2="528.3" y2="98.8"/>
<circle class="c" cx="531.1" cy="98.8" r="2.7"/>
<text class="tm" x="536.9" y="100.4" textLength="7.4" lengthAdjust="spacingAndGlyphs">Mix</text>
<line class="w" x1="519.9" y1="98.8" x2="519.9" y2="153.6"/>
<polyline class="c" points="468.3,161.2 446.4,161.2 446.4,164.5"/>
<polygon class="c" points="442.7,164.5 450.1,164.5 446.4,168.3"/>
<polyline class="c" points="476.1,142.8 476.1,124.4 488.5,124.4"/>
<line class="cp" x1="488.5" y1="116.4" x2="488.5" y2="132.3"/>
<line class="cp" x1="493" y1="116.4" x2="493" y2="132.3"/>
<polyline class="c" points="493,124.4 505.3,124.4 505.3,128.1"/>
<polygon class="c" points="501.6,128.1 509,128.1 505.3,131.9"/>
<polyline class="c" points="476.1,164.5 476.1,183.3 488.5,183.3"/>
<line class="cp" x1="488.5" y1="175.5" x2="488.5" y2="191.2"/>
<line class="cp" x1="493" y1="175.5" x2="493" y2="191.2"/>
<polyline class="c" points="493,183.3 505.3,183.3 505.3,186.6"/>
<polygon class="c" points="501.6,186.6 509,186.6 505.3,190.4"/>
<circle cx="476.1" cy="124.4" r="1.1" fill="#2d7a2d"/>
<polygon points="468.3,139.4 497.3,153.6 468.3,168" fill="#fcf772" stroke="#b8803a" stroke-width="1.1"/>
<line class="gm" x1="470.6" y1="146.4" x2="472.6" y2="146.4"/>
<line class="gm" x1="470.6" y1="161.2" x2="472.6" y2="161.2"/>
<line class="gm" x1="471.6" y1="160.2" x2="471.6" y2="162.2"/>
<text class="gv" x="476.5" y="148" text-anchor="middle" transform="rotate(-90 476.5 148)">V−</text>
<text class="gv" x="476.5" y="162.8" text-anchor="middle" transform="rotate(-90 476.5 162.8)">V+</text>
<line class="c" x1="497.3" y1="153.6" x2="528" y2="153.6"/>
<rect class="r" x="527.95" y="150.95" width="21.1" height="5.3" rx="0.4"/>
<text class="trb" x="538.5" y="155.5" text-anchor="middle">R</text>
<text class="tres" x="533.8" y="149" textLength="10.2" lengthAdjust="spacingAndGlyphs">R21</text>
<line class="c" x1="549.7" y1="153.6" x2="556.5" y2="153.6"/>
<text class="bl" x="466.9" y="123.4" textLength="8.5" lengthAdjust="spacingAndGlyphs">V−</text>
<text class="bl" x="466.9" y="181.4" textLength="8.5" lengthAdjust="spacingAndGlyphs">V+</text>
<text class="tl" x="486.7" y="140.4" textLength="16" lengthAdjust="spacingAndGlyphs">TL074</text>
<text class="tu" x="481" y="171.1" textLength="12.3" lengthAdjust="spacingAndGlyphs">U1A</text>
<text class="pp" x="457" y="145.9" text-anchor="middle">2</text>
<text class="pp" x="457" y="160.7" text-anchor="middle">3</text>
<text class="pp" x="510" y="153" text-anchor="middle">1</text>
<text class="pr" x="474.8" y="133" text-anchor="middle" transform="rotate(-90 474.8 133)">11</text>
<text class="pr" x="474.8" y="174" text-anchor="middle" transform="rotate(-90 474.8 174)">4</text>
<text class="tl" x="485.2" y="117.3" textLength="6.8" lengthAdjust="spacingAndGlyphs" text-anchor="middle" transform="rotate(-90 485.2 117.3)">C2</text>
<text class="tl" x="500.2" y="119" text-anchor="middle" transform="rotate(-90 500.2 119)">C</text>
<text class="tl" x="485.8" y="188.3" text-anchor="middle" transform="rotate(-90 485.8 188.3)">C</text>
<text class="tl" x="500.2" y="191.9" textLength="6.8" lengthAdjust="spacingAndGlyphs" text-anchor="middle" transform="rotate(-90 500.2 191.9)">C1</text>
</g>
<line class="w" x1="556.5" y1="153.6" x2="556.5" y2="307.6"/>
<line class="w" x1="556.5" y1="153.5" x2="563.9" y2="153.5"/>
<line class="c" x1="563.9" y1="153.5" x2="585.9" y2="153.5"/>
<polyline class="w" points="563.9,153.5 563.9,106.4"/>
<line class="c" x1="563.9" y1="106.4" x2="571.2" y2="106.4"/>
<rect class="r" x="571.85" y="103.75" width="21" height="5.3" rx="0.4"/>
<text class="trb" x="582.35" y="108.3" text-anchor="middle">R</text>
<text class="tres" x="576.2" y="101.2" textLength="10.2" lengthAdjust="spacingAndGlyphs">R22</text>
<line class="c" x1="593.5" y1="106.4" x2="600.5" y2="106.4"/>
<line class="w" x1="600.5" y1="106.4" x2="637.5" y2="106.4"/>
<line class="c" x1="637.5" y1="106.4" x2="645.7" y2="106.4"/>
<circle class="c" cx="648.4" cy="106.4" r="2.7"/>
<text class="tm" x="654.3" y="108" textLength="7.4" lengthAdjust="spacingAndGlyphs">Mix</text>
<line class="w" x1="637.5" y1="106.4" x2="637.5" y2="161.1"/>
<line class="c" x1="593.2" y1="131.8" x2="593.2" y2="150.5"/>
<line class="c" x1="593.2" y1="171.5" x2="593.2" y2="190.2"/>
<polyline class="c" points="585.9,168.2 563.9,168.2 563.9,172"/>
<polygon class="c" points="560.2,172 567.6,172 563.9,175.8"/>
<polygon points="585.9,146.6 614.6,161.1 585.9,175.2" fill="#fcf772" stroke="#b8803a" stroke-width="1.1"/>
<line class="gm" x1="588.2" y1="153.5" x2="590.2" y2="153.5"/>
<line class="gm" x1="588.2" y1="168.2" x2="590.2" y2="168.2"/>
<line class="gm" x1="589.2" y1="167.2" x2="589.2" y2="169.2"/>
<text class="gv" x="594.1" y="155.1" text-anchor="middle" transform="rotate(-90 594.1 155.1)">V−</text>
<text class="gv" x="594.1" y="169.8" text-anchor="middle" transform="rotate(-90 594.1 169.8)">V+</text>
<line class="c" x1="614.6" y1="161.1" x2="637.5" y2="161.1"/>
<text class="tl" x="603.7" y="148.5" textLength="16" lengthAdjust="spacingAndGlyphs">TL074</text>
<text class="tu" x="598" y="178" textLength="12.3" lengthAdjust="spacingAndGlyphs">U2D</text>
<text class="pp" x="575" y="153" text-anchor="middle">13</text>
<text class="pp" x="575" y="167.7" text-anchor="middle">12</text>
<text class="pp" x="626" y="160.6" text-anchor="middle">14</text>
<text class="pr" x="591.9" y="140.5" text-anchor="middle" transform="rotate(-90 591.9 140.5)">11</text>
<text class="pr" x="591.9" y="181.5" text-anchor="middle" transform="rotate(-90 591.9 181.5)">4</text>
<text class="bl" x="474" y="409" textLength="8.5" lengthAdjust="spacingAndGlyphs">V−</text>
<text class="bl" x="474" y="468.2" textLength="8.5" lengthAdjust="spacingAndGlyphs">V+</text>
<line class="w" x1="483.4" y1="410.6" x2="519.6" y2="410.6"/>
<line class="w" x1="483.4" y1="439.3" x2="556.6" y2="439.3"/>
<line class="w" x1="483.4" y1="468.9" x2="519.6" y2="468.9"/>
<line class="c" x1="483.4" y1="410.6" x2="483.4" y2="468.9"/>
<line class="c" x1="519.6" y1="410.6" x2="519.6" y2="468.9"/>
<line class="cp" x1="475" y1="423" x2="491.6" y2="423"/>
<line class="cp" x1="475" y1="427.2" x2="491.6" y2="427.2"/>
<line class="cp" x1="475" y1="452.3" x2="491.6" y2="452.3"/>
<line class="cp" x1="475" y1="456.6" x2="491.6" y2="456.6"/>
<path class="cp2" d="M512.3,421.5 Q519.9,425.7 527.6,421.5"/>
<path class="cp2" d="M512.3,450.4 Q519.9,454.6 527.6,450.4"/>
<line class="cp2" x1="512.3" y1="428.8" x2="527.6" y2="428.8"/>
<line class="c" x1="521.9" y1="432.2" x2="525.3" y2="432.2"/>
<line class="c" x1="523.6" y1="430.5" x2="523.6" y2="433.9"/>
<line class="cp2" x1="512.3" y1="458.2" x2="527.6" y2="458.2"/>
<line class="c" x1="521.9" y1="461.6" x2="525.3" y2="461.6"/>
<line class="c" x1="523.6" y1="459.9" x2="523.6" y2="463.3"/>
<text class="tl" x="487" y="419.6" textLength="7" lengthAdjust="spacingAndGlyphs">C3</text>
<text class="tl" x="487" y="434" textLength="3.5" lengthAdjust="spacingAndGlyphs">C</text>
<text class="tl" x="487" y="448.7" textLength="7" lengthAdjust="spacingAndGlyphs">C4</text>
<text class="tl" x="487" y="463.6" textLength="3.5" lengthAdjust="spacingAndGlyphs">C</text>
<text class="tl" x="506" y="419.6" textLength="10.5" lengthAdjust="spacingAndGlyphs">CP1</text>
<text class="tl" x="509.3" y="434.3" textLength="7" lengthAdjust="spacingAndGlyphs">C5</text>
<text class="tl" x="506" y="448.7" textLength="10.5" lengthAdjust="spacingAndGlyphs">CP1</text>
<text class="tl" x="509.3" y="463.7" textLength="7" lengthAdjust="spacingAndGlyphs">C6</text>
<line class="c" x1="519.6" y1="410.5" x2="527.3" y2="410.5"/>
<rect class="r" x="528.1" y="408" width="20.7" height="5" rx="0.8"/>
<text class="trb" x="538.5" y="412.4" text-anchor="middle">R</text>
<text class="tl" x="535" y="417.8" textLength="7" lengthAdjust="spacingAndGlyphs">R4</text>
<line class="c" x1="549.6" y1="410.5" x2="560.1" y2="410.5"/>
<polygon class="c" points="560.1,410.5 564,405.1 567.9,410.5 564,415.9"/>
<text class="tf" x="570.2" y="410.5" textLength="16" lengthAdjust="spacingAndGlyphs" text-anchor="middle" transform="rotate(-90 570.2 410.5)">PWR_FLAG</text>
<line class="c" x1="556.6" y1="439.3" x2="560.1" y2="439.3"/>
<polygon class="c" points="560.1,439.3 564,433.9 567.9,439.3 564,444.7"/>
<text class="tf" x="570.2" y="439.3" textLength="16" lengthAdjust="spacingAndGlyphs" text-anchor="middle" transform="rotate(-90 570.2 439.3)">PWR_FLAG</text>
<line class="c" x1="519.6" y1="468.7" x2="527.3" y2="468.7"/>
<rect class="r" x="528.1" y="466.2" width="20.7" height="5" rx="0.8"/>
<text class="trb" x="538.5" y="470.6" text-anchor="middle">R</text>
<text class="tl" x="535" y="476" textLength="7" lengthAdjust="spacingAndGlyphs">R5</text>
<line class="c" x1="549.6" y1="468.7" x2="560.1" y2="468.7"/>
<polygon class="c" points="560.1,468.7 564,463.3 567.9,468.7 564,474.1"/>
<text class="tf" x="570.2" y="468.7" textLength="16" lengthAdjust="spacingAndGlyphs" text-anchor="middle" transform="rotate(-90 570.2 468.7)">PWR_FLAG</text>
<text class="bl" x="575.7" y="409.8" textLength="33.3" lengthAdjust="spacingAndGlyphs">−15V PSU</text>
<text class="bl" x="575.2" y="439.2" textLength="26.9" lengthAdjust="spacingAndGlyphs">GROUND</text>
<text class="bl" x="575.7" y="468.6" textLength="33.3" lengthAdjust="spacingAndGlyphs">+15V PSU</text>
</svg></body></html>
